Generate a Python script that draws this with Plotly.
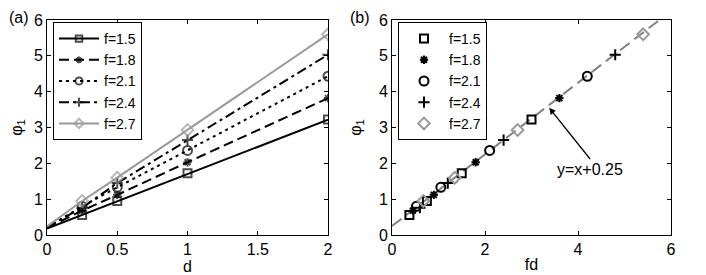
import plotly.graph_objects as go

d_vals = [0.0, 0.25, 0.5, 1.0, 2.0]
f_vals = [1.5, 1.8, 2.1, 2.4, 2.7]
labels = ["f=1.5", "f=1.8", "f=2.1", "f=2.4", "f=2.7"]
phi_f15 = [0.18, 0.56, 0.95, 1.72, 3.22]
phi_f18 = [0.20, 0.68, 1.12, 2.03, 3.82]
phi_f21 = [0.21, 0.80, 1.33, 2.36, 4.43]
phi_f24 = [0.22, 0.76, 1.45, 2.65, 5.03]
phi_f27 = [0.24, 0.95, 1.60, 2.93, 5.60]
phis = [phi_f15, phi_f18, phi_f21, phi_f24, phi_f27]
fit_x = [0.0, 6.0]
fit_intercept = 0.25

colors = ["black", "black", "black", "black", "#999999"]
dashes = ["solid", "10px,5px", "3px,4px", "10px,4px,3px,4px", "solid"]
symbols = ["square-open", "asterisk-open", "circle-open", "cross-thin-open", "diamond-open"]
msizes = [8, 7, 9, 8, 9]

font = "Liberation Sans, Arial, sans-serif"
W, H = 698, 267  # page body has an 8px default margin
fig = go.Figure()

for i in range(5):
    sizes = [0] + [msizes[i]] * 4
    fig.add_trace(go.Scatter(
        x=d_vals, y=phis[i], mode="lines+markers", name=labels[i],
        line=dict(color=colors[i], width=2, dash=dashes[i]),
        marker=dict(symbol=symbols[i], size=sizes, color=colors[i],
                    line=dict(width=2, color=colors[i])),
        xaxis="x", yaxis="y", legend="legend",
    ))

fit_y = [x + fit_intercept for x in fit_x]
fig.add_trace(go.Scatter(
    x=fit_x, y=fit_y, mode="lines", showlegend=False,
    line=dict(color="#808080", width=2, dash="12px,6px"),
    xaxis="x2", yaxis="y2",
))

for i in range(5):
    fd = [f_vals[i] * d for d in d_vals[1:]]
    fig.add_trace(go.Scatter(
        x=fd, y=phis[i][1:], mode="markers", name=labels[i],
        marker=dict(symbol=symbols[i], size=msizes[i], color=colors[i],
                    line=dict(width=2, color=colors[i])),
        xaxis="x2", yaxis="y2", legend="legend2",
    ))

axis_common = dict(showline=True, linecolor="black", linewidth=1, mirror="allticks",
                   ticks="inside", ticklen=4, tickcolor="black", showgrid=False,
                   zeroline=False, automargin=False,
                   tickfont=dict(size=16, color="black", family=font))

ydom = [40/H, 255/H]
fig.update_layout(
    width=W, height=H,
    margin=dict(l=0, r=0, t=0, b=0, autoexpand=False),
    paper_bgcolor="white", plot_bgcolor="white",
    font=dict(family=font, size=16, color="black"),
    xaxis=dict(domain=[39/W, 320/W], range=[0, 2], tickvals=[0, 0.5, 1, 1.5, 2],
               ticktext=["0", "0.5", "1", "1.5", "2"],
               title=dict(text="d", standoff=1, font=dict(size=16)), anchor="y", **axis_common),
    yaxis=dict(domain=ydom, range=[0, 6], tickvals=list(range(7)),
               title=dict(text="φ<sub>1</sub>", standoff=13, font=dict(size=16)), anchor="x", **axis_common),
    xaxis2=dict(domain=[384/W, 663/W], range=[0, 6], tickvals=[0, 2, 4, 6],
                title=dict(text="fd", standoff=1, font=dict(size=16)), anchor="y2", **axis_common),
    yaxis2=dict(domain=ydom, range=[0, 6], tickvals=list(range(7)),
                title=dict(text="φ<sub>1</sub>", standoff=13, font=dict(size=16)), anchor="x2", **axis_common),
    legend=dict(x=45/W, y=(H-14)/H, xanchor="left", yanchor="top",
                bgcolor="white", bordercolor="black", borderwidth=1,
                font=dict(size=14, family=font), tracegroupgap=0, itemwidth=40),
    legend2=dict(x=390/W, y=(H-14)/H, xanchor="left", yanchor="top",
                 bgcolor="white", bordercolor="black", borderwidth=1,
                 font=dict(size=14, family=font), tracegroupgap=0, itemwidth=40),
    annotations=[
        dict(text="(a)", x=0, y=1, xref="paper", yref="paper", xanchor="left", yanchor="top",
             showarrow=False, font=dict(size=16), borderpad=0),
        dict(text="(b)", x=341/W, y=1, xref="paper", yref="paper", xanchor="left", yanchor="top",
             showarrow=False, font=dict(size=16), borderpad=0),
        dict(text="y=x+0.25", x=3.38, y=3.55, xref="x2", yref="y2",
             ax=4.26, ay=2.12, axref="x2", ayref="y2", showarrow=True,
             arrowhead=2, arrowsize=1, arrowwidth=1.3, arrowcolor="black",
             font=dict(size=16), xanchor="center", yanchor="top"),
    ],
)

fig.write_html("out.html")
